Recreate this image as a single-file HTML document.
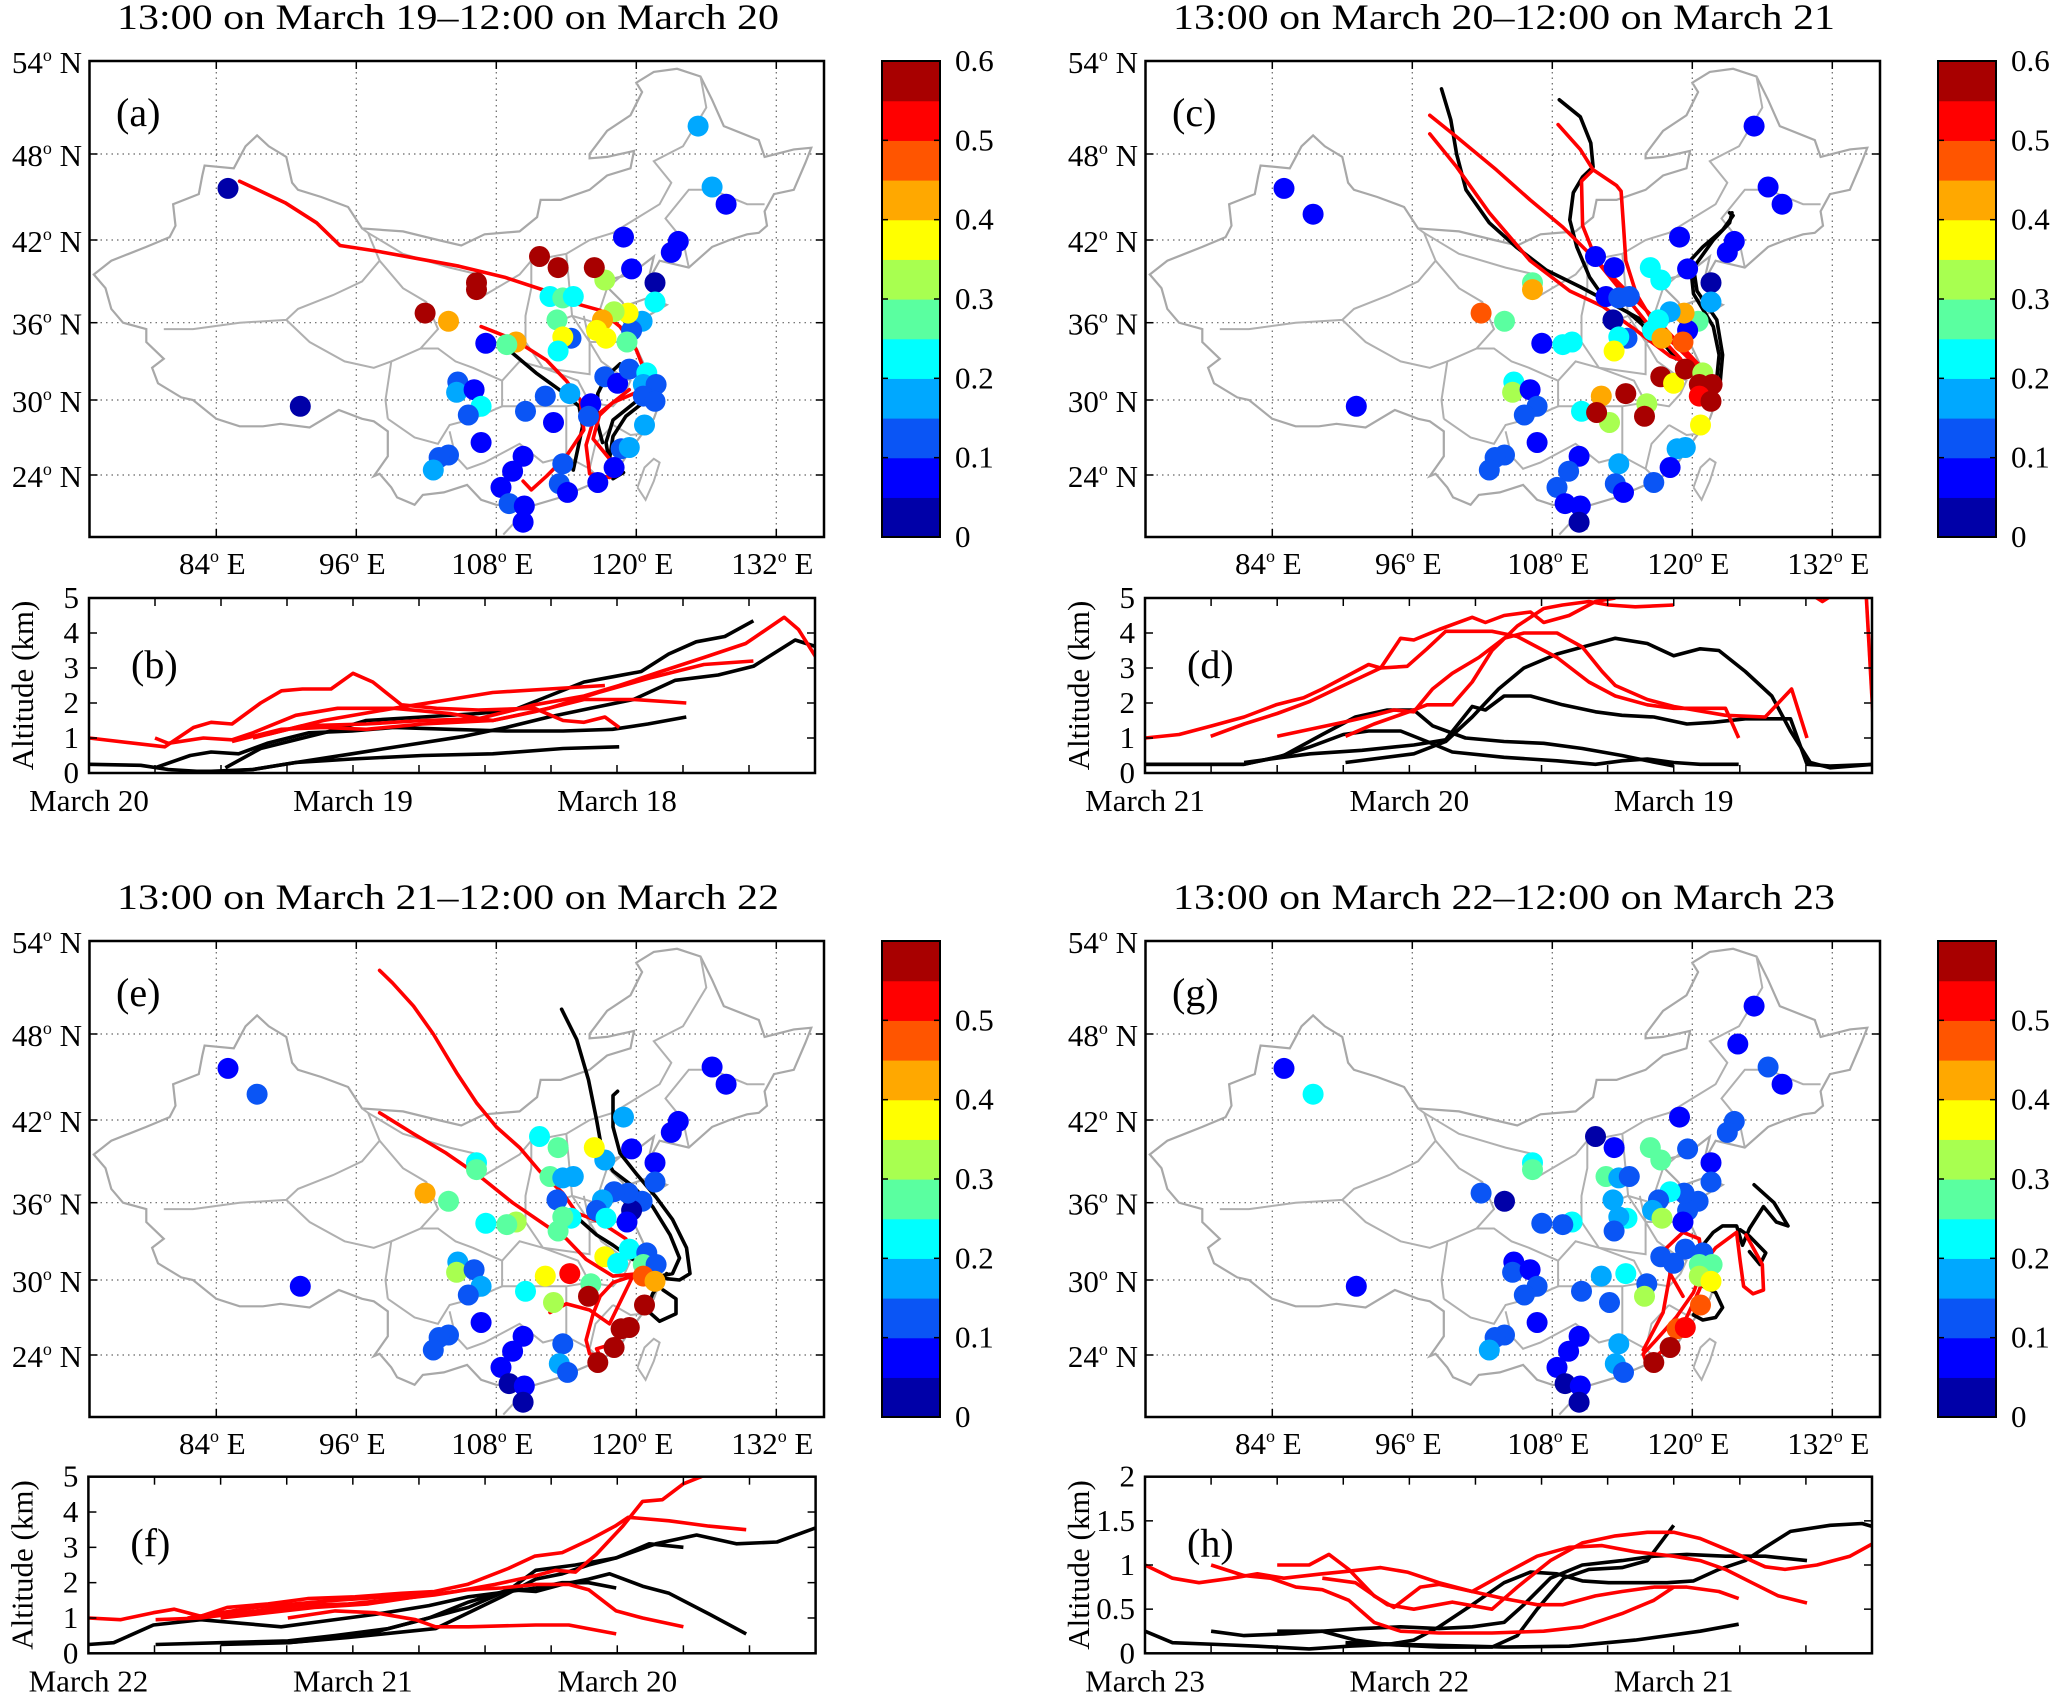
<!DOCTYPE html>
<html><head><meta charset="utf-8">
<style>
html,body{margin:0;padding:0;background:#fff;overflow:hidden;}
svg{display:block;font-family:"Liberation Serif","Times New Roman",serif;}
</style></head>
<body>
<svg id="chart" width="2067" height="1695" viewBox="0 0 2067 1695" xmlns="http://www.w3.org/2000/svg"></svg>
<script>
// ---------------- DATA ----------------
const jetColors=['#0000a8','#0000ff','#0a55f5','#00a8ff','#00ffff','#5affa0','#a8ff50','#ffff00','#ffa800','#ff5500','#ff0000','#a80000'];
const latTicks=[54,48,42,36,30,24];
const lonTicks=[84,96,108,120,132];
const cbTicksTop=[0,0.1,0.2,0.3,0.4,0.5,0.6];
const cbTicksBottom=[0,0.1,0.2,0.3,0.4,0.5];

const stationLon=[125.3,126.5,127.7,118.9,123.6,123.0,119.6,121.6,121.6,120.5,119.6,119.2,119.3,118.1,117.1,116.6,117.4,117.3,116.4,113.3,111.7,106.3,106.3,101.9,103.9,112.6,113.7,114.6,113.2,114.4,113.7,113.3,107.1,109.7,108.9,104.7,104.6,106.1,106.7,105.6,106.7,103.9,103.1,102.6,110.5,112.2,112.9,114.3,116.1,115.9,117.3,118.4,119.4,120.9,120.6,121.7,120.6,121.6,120.7,118.7,119.4,118.1,116.7,113.7,113.4,114.1,110.3,109.4,108.4,109.1,110.4,110.3,85.0,87.5,91.2,111.8,123.9];
const stationLat=[49.8,45.7,44.5,42.2,41.9,41.1,39.9,38.9,37.5,36.1,35.4,34.5,36.7,36.8,36.2,35.4,34.8,39.1,40.0,40.0,40.8,38.9,38.4,36.7,36.1,37.9,37.8,37.9,36.2,34.8,34.9,33.8,34.4,34.5,34.3,31.4,30.6,30.8,29.5,28.8,26.6,25.6,25.4,24.4,29.1,30.3,28.2,30.5,29.7,28.7,31.8,31.3,32.4,32.1,31.2,31.2,30.3,29.9,28.0,26.1,26.2,24.6,23.4,24.9,23.3,22.6,25.5,24.3,23.0,21.7,21.5,20.2,45.6,43.8,29.5,29.0,47.3];
const valuesA=[.18,.17,.08,.08,.05,.08,.08,.02,.2,.17,.12,.25,.38,.3,.43,.38,.38,.33,.58,.58,.58,.58,.58,.58,.43,.23,.28,.23,.28,.12,.38,.22,.08,.43,.28,.12,.18,.08,.22,.12,.08,.12,.12,.18,.12,.12,.08,.18,.08,.12,.12,.08,.12,.22,.18,.12,.12,.12,.18,.12,.18,.08,.08,.12,.12,.08,.08,.08,.08,.12,.08,.08,.02,null,.02,null,null];
const valuesC=[.08,.08,.08,.08,.08,.08,.08,.02,.18,.28,.08,.48,.43,.18,.22,.22,.43,.22,.22,.08,.08,.28,.43,.48,.28,.08,.12,.12,.02,.12,.22,.38,.08,.22,.22,.22,.33,.08,.12,.12,.08,.12,.12,.12,.22,.43,.33,.58,.33,.58,.58,.38,.58,.33,.58,.58,.52,.58,.38,.18,.18,.08,.12,.18,.12,.08,.08,.12,.12,.08,.08,.02,.08,.08,.08,.58,null];
const valuesE=[null,.08,.08,.18,.08,.08,.08,.08,.12,.12,.02,.08,.12,.12,.18,.12,.22,.18,.38,.28,.22,.22,.28,.43,.28,.28,.18,.18,.12,.22,.28,.28,.22,.33,.28,.18,.33,.12,.18,.12,.08,.12,.12,.12,.22,.38,.33,.53,.28,.58,.38,.22,.22,.12,.28,.12,.48,.43,.58,.58,.58,.58,.58,.12,.18,.12,.08,.08,.08,.02,.08,.02,.08,.12,.08,null,null];
const valuesG=[.08,.12,.08,.08,.12,.12,.12,.08,.12,.12,.12,.08,.12,.22,.12,.18,.33,.28,.28,.08,.02,.22,.28,.12,.02,.28,.18,.12,.18,.22,.18,.12,.12,.22,.12,.08,.12,.08,.12,.12,.08,.12,.12,.18,.12,.18,.12,.22,.12,.33,.12,.12,.12,.12,.28,.28,.33,.38,.48,.48,.52,.58,.58,.18,.18,.12,.08,.08,.08,.02,.08,.02,.08,.2,.08,null,.08];

const chinaLon=[73.5,75,76.5,78,80,80.5,80.3,82.5,82.8,83,85.5,86.5,87.5,88.5,90,90.5,91,93,95.3,96.5,100,103,105,107,110,111.5,111.8,113.5,116,117.5,119.5,119.8,117.5,116,116,117.5,119.5,120.5,120,121.5,123.5,125.5,126.5,127.5,130.5,131,133.5,135,134.5,133.5,131.8,131,131.2,130.5,129.5,128,126.5,124.5,122,121,121.5,119.5,118,117.6,118.8,119,121,122.6,121,119.5,120.8,121.9,121.7,122,121.5,120.5,119.5,118.5,117,115,113.5,111,109.7,108,106.7,105.5,103.5,101.7,101,99.5,99,98,97.5,98.7,98.7,97.5,96.5,94.5,92,89.5,88,86,84,82,81,79,78.5,79.5,78,78,76,75,74.5,73.5];
const chinaLat=[39.5,40.5,41,41.5,42.2,43,44.5,45.2,46.5,47.2,47,48.5,49.2,48.5,47.8,46,45.5,45,44.3,42.8,42.6,42,41.6,42.4,42.6,43.6,44.8,44.8,45.5,46.5,47,48.2,47.8,47.7,48,49.5,50.5,52,52.6,53.3,53.5,53,51.5,49.8,48.9,47.8,48.3,48.4,47.4,45.5,45.2,44,43,42.5,42.4,42,41.5,40,40.5,39,40.8,39.5,39.2,38.5,37.5,37.2,37.8,37.3,36.5,35,32.5,31.7,30.8,29.8,28.5,27.3,26,24.6,23.6,22.8,22.2,21.5,21.5,21.6,22,23.2,22.6,22.4,21.6,22.2,23,24.1,23.9,25.5,27.5,28.3,28.5,29.2,27.8,28.1,27.9,27.9,28.5,30,30.2,31.3,32.5,33.2,34.5,35.5,36,37,38.5,39.5];
const borderLon=[
 [79.5,82,86,90,91,94,96.5,98,97,96.5],
 [90,92,95,97.5,99,98.5,98.7],
 [98,100,102,103,101.5,99],
 [97,100,104,106.5,107,110,111,114,116,118,120,122,123,121.5,124,126,125.5],
 [98.7,101,103,104,106,108.5,108.5,106,104.5,103,101.5],
 [104,104.5,105.5,107,109,110,112,114,116,117],
 [114,114,114],
 [108.5,110,112,115,116,114,111,109,108.5],
 [110.5,110.5,111,111],
 [110.5,112,116,116,114.5,113],
 [115.5,116,118.5,119.5],
 [116,117,118.5,119.5,119,118,116],
 [118,119.5,120.5],
 [116,116.5,118],
 [114,114.5,116.5,117.5,119.5],
 [124.5,124,122.5,124.5,126.5,129.5,131],
 [120.1,120.7,121.5,122,121.5,120.8,120.1],
 [108.6,109.5,110.7,111]];
const borderLat=[
 [35.5,35.5,36,36.2,37,38,39,40.5,42.5,42.8],
 [36.2,34.5,33,32.5,33,30,28.5],
 [40.5,38.5,37.5,35.5,34,33],
 [42.5,41,40,39.5,38,39.5,40.5,41,42,42.5,43.5,44.5,46,47.5,48.5,51,53],
 [28.5,27,26.5,28,28.5,29.5,31.5,32.5,33,34,34],
 [27.5,25.5,24.5,25,26,26.5,25,25.5,24.5,23.6],
 [29.5,27,25.5],
 [31.5,33,32.5,31.5,29.8,29.5,29.5,29.5,29.5],
 [34.5,36.5,38.5,40.5],
 [34.5,32.5,32,34.5,36.5,36],
 [36.5,34.5,34.5,35],
 [34.5,33,32,31.5,30.5,29.5,29.8],
 [28,27.2,27.3],
 [24.5,26.5,28],
 [41,36.5,36,38.5,40],
 [40,42,43.5,45.5,45.5,44.5,44.5],
 [23,24.6,25.3,25,23.5,22,23],
 [19.2,20.1,20.1,19.6]];

// map trajectories (lon/lat)
const trajARedLon=[[86.0,89.9,92.6,94.6,97.7,104.8,108.7,112.3,115.2,116.9,118.6,120.0,120.6],[106.7,109.5,112.3,114.0,115.2,115.5,114.0,112.3,111.0,110.3],[120.3,118.0,116.3,115.7,116.0,117.7,118.6],[119.4,116.9,116.3,117.7,118.6]];
const trajARedLat=[[46.1,44.6,43.2,41.6,41.2,40.1,39.3,38.3,37.3,36.9,35.7,33.9,32.5],[35.7,34.7,33.1,31.5,30.0,27.6,25.5,23.9,22.8,23.5],[30.7,29.8,28.3,26.4,24.1,23.8,24.4],[30.8,29.0,26.9,25.3,24.4]];
const trajABlackLon=[[109.3,111.4,113.4,115.1,115.4,114.6],[120.6,119.1,118,117.7,118,118.9],[118.6,117.4,116.7,116.6,117.1],[120,118,117.4,117.6]];
const trajABlackLat=[[33.7,32.1,30.8,29.5,27.9,24.4],[29.8,28.7,27.1,25.3,23.7,24.2],[32.8,31.8,30.5,28.4,26.6],[29.9,28.4,26.6,25.5]];
const trajCRedLon=[[97.5,99.8,103.2,106.1,108.9,111.8,114.6,117.5,120.6],[97.5,99.8,102.6,106.1,109.5,112.3,115.2,118.1,120.1],[108.5,110.4,111.5,110.5,110.6,111.8,114.1,116.1,119],[111.5,113.5,113.9,114.1,114.3,115.2,116.9,120.3]];
const trajCRedLat=[[50.5,49.1,46.9,44.8,42.9,40.5,38.1,35.7,32.7],[49.3,47.1,43.9,40.5,38.3,37.2,35.4,33.4,32.7],[49.9,48.3,46.9,46.1,43,40.5,38.1,36,33.2],[46.9,45.8,45.4,43.0,40.5,38.1,35.7,32.7]];
const trajCBlackLon=[[98.5,99.3,99.8,100.6,102.6,104.9,107.5,110.4,113.5,116.1,118.6],[108.6,110.4,111.3,111.5,110.6,109.8,109.5,110.1,111.2,112.6,114.6,116.9,119.2],[122.1,122.3,121.8,120.1,119.8,120.9,122.6,123.5,123.2],[122.4,122.6,122.1,120.4,120.1,121.8,123.2,123.4]];
const trajCBlackLat=[[52.2,50.2,48.0,45.5,43.2,41.5,39.8,38.6,37.2,36,33.2],[51.5,50.4,48.7,47.1,46.4,45.3,43.4,41.5,39.3,37.6,36.7,34.9,32.9],[31.7,33.5,35.7,38.1,40.5,41.5,42.7,43.7,43.9],[31.5,33.5,36.2,38.3,40.0,42.0,43.2,43.9]];
const trajERedLon=[[98,99.1,100.9,102.6,104.6,106.3,108,110,111.7,113.7,114.9,116.9,119.1],[98,100.9,103.7,106.6,109.4,112.3,114,115.7,118,120.3],[112.6,114,116,117.7,119.7],[120.3,118,116.9,116.3,115.7,116,116.9,116.6,118]];
const trajERedLat=[[52.1,51.3,49.8,48.0,45.3,43.2,41.5,40,38.3,36.7,35.2,34.5,33.2],[42.5,41,39.6,37.9,36,34.2,33.2,31.6,30.3,30.5],[27.4,28.1,27.6,26.5,30.3],[30.5,29.8,28.7,27.3,25.2,24.1,23.9,24.5,24.9]];
const trajEBlackLon=[[113.6,114.9,115.9,116.6,117.1,118,119.7,121.4,122.9,123.7,123.1,122],[118.4,118,118,118.6,120,121.7,123.1,124.3,124.6,123.7,122.6],[115.1,116.6,118,119.7],[122.6,121.4,120.9,122,123.4,123.4,122.3]];
const trajEBlackLat=[[49.6,47.6,44.8,42,39.6,38.3,37.2,35.7,33.5,31.7,30.5,30.3],[44,43.7,41.5,39.6,38.1,36.4,34.7,32.5,30.5,30,30.1],[34.7,33.5,32.7,31.6],[30.5,28.9,27.6,26.7,27.3,28.5,29.2]];
const trajGRedLon=[[119.2,118.1,117.8,119.2,120.6,120.9,120.1,118.6,116.9,115.8,116.1,117.5,119.5,120.6,121.5],[120.3,122,123.8,124.1,124.4,125.2,126.1,126,124.6],[115.8,117.5,118.1,119.2]];
const trajGRedLat=[[28.7,30.5,32.5,33.7,33.2,31,29,27,25.2,24.1,23.2,24.4,27,29.2,31.5],[30.5,32.5,33.7,31.5,29.5,28.9,29.2,31.2,33.5],[24.4,27.4,30.5,31.8]];
const trajGBlackLon=[[125.3,127,128.2,127.2,126.1,124.9,124.3,123.8,122.6,121.8,120.9,120.6,120.9,122,122.6,122,120.9,120.1,120.6],[124.1,124.9,126.3,125.8,124.9]];
const trajGBlackLat=[[37.3,36,34.2,34.5,35.7,34,32.7,34.2,34.2,33.7,32.7,31,29.5,29,27.8,27,26.8,27.2,28],[33.9,33.4,32.1,31.2,32.2]];

// altitude panels: hours before arrival and altitude (km)
const bRedHours=[[0,6.9,9.5,11.1,13,15.6,17.5,19.4,22,24,25.8,28.4,31.6,35.4,40.5,43.1,45,46.9,48.2],[6,7.2,10.4,13,14.9,18.8,22.6,27.7,32.8,36.7,40.5,45,49.5,54.3],[13,17.5,21.3,25.2,30.3,36.7,41.8,46.3,50.8,55.9,60.4],[14.9,19.4,25.2,30.3,35.4,40.5,45,48.2,52,55.9,59.7,63.2,64.5,66.1],[16.2,21.3,27.7,32.8,36.7,41.8,46.9]];
const bRedKm=[[1.0,0.75,1.3,1.45,1.4,2.0,2.35,2.4,2.4,2.85,2.6,1.95,1.85,1.8,1.85,1.5,1.45,1.6,1.3],[1.0,0.85,1.0,0.95,1.15,1.65,1.85,1.85,1.7,1.5,1.75,2.1,2.1,2.0],[0.9,1.25,1.3,1.25,1.4,1.5,1.85,2.3,2.7,3.1,3.2],[1.0,1.35,1.4,1.5,1.55,1.95,2.2,2.5,2.9,3.3,3.7,4.45,4.1,3.3],[1.1,1.5,1.85,2.1,2.3,2.4,2.5]];
const bBlackHours=[[0,4.7,7.2,9.8,12.4,14.9,18.8,23.9,30.3,36.7,43.1,48.2],[6,9.2,11.1,13.6,16.2,20,23.9,27.7,32.8,37.9,43.1,47.6,50.8,54.3],[12.4,15.6,18.8,22,25.2,30.3,35.4,38.6,41.8,45,47.6,50.2,52.7,55.2,57.8,60.4],[11.1,14.9,18.8,23.9,29,34.1,37.9,41.8,45.6,49.5,53.3,57.2,60.4,64.2,66.2]];
const bBlackKm=[[0.25,0.22,0.1,0.05,0.05,0.1,0.3,0.4,0.5,0.55,0.7,0.75],[0.15,0.5,0.6,0.55,0.85,1.15,1.2,1.3,1.25,1.2,1.2,1.25,1.4,1.6],[0.15,0.7,0.95,1.2,1.5,1.6,1.7,1.8,2.2,2.6,2.75,2.9,3.4,3.75,3.9,4.35],[0.05,0.1,0.3,0.55,0.8,1.05,1.3,1.6,1.85,2.1,2.65,2.8,3.05,3.8,3.6]];
const dRedHours=[[0,3.1,6.1,9,11.9,14.4,16.1,18.5,20.3,21.4,23.2,24.4,26.7,29.7,30.9,32.6,35,36.2,38.5,40.9,42.7],[5.96,9,12,15,18,19.7,21.4,23.8,25.6,27.3,31.5,33.8,37.4,40.3,42.7,45.6,48,50.4,52.7,53.9],[12,15,18,20.8,22.6,24.4,26.1,27.9,30.3,32.6,34.4,37.4,39.7,41.5,42.7,45.6,48,52.7,56.3,58.7,60.1],[18.2,20.8,24.4,25.6,27.9,29.7,31.5,33.8,36.2,37.9,40.3,42.1,44.5,48],[60.5,61.5,62.5],[65.4,66.2]];
const dRedKm=[[1.0,1.1,1.35,1.6,1.95,2.15,2.4,2.8,3.1,3.0,3.85,3.8,4.1,4.45,4.3,4.5,4.6,4.3,4.5,4.9,5.0],[1.05,1.4,1.7,2.05,2.5,2.75,3.0,3.05,3.55,4.05,4.05,3.9,3.3,2.6,2.2,1.95,1.85,1.85,1.85,1.0],[1.05,1.25,1.45,1.65,1.8,1.75,2.4,2.85,3.3,3.85,4.0,4.0,3.6,2.9,2.5,2.1,1.9,1.65,1.6,2.4,1.0],[1.05,1.4,1.8,1.95,1.95,2.6,3.5,4.2,4.7,4.8,4.9,4.8,4.75,4.8],[5.1,4.9,5.1],[5.5,1.0]];
const dBlackHours=[[0,9,12,15,18,20.3,23.2,25.6,27.9,32.6,37.4,40.9,43.3,45.6,48,50.4,53.9],[0,9,12.6,16.1,19.1,22,24.4,26.1,29.1,32.6,36.2,39.7,43.3,45.6,48],[9,15,19.7,24.4,27.3,29.7,30.9,32.6,35,37.9,40.9,43.3,46.2,49.2,51.6,54.5,58.6,60.1,62.2,66.2],[18.2,24.4,27.3,29.7,32.1,34.4,37.4,40.3,42.7,45.6,48,50.4,52.1,54.5,56.9,58.6,60.4,62.2,66.2]];
const dBlackKm=[[0.25,0.25,0.45,0.75,1.1,1.2,1.2,0.9,0.6,0.45,0.35,0.25,0.35,0.4,0.3,0.25,0.25],[0.25,0.25,0.5,1.1,1.6,1.8,1.8,1.35,1.0,0.9,0.85,0.7,0.5,0.35,0.2],[0.3,0.55,0.65,0.8,0.95,1.9,1.8,2.2,2.2,1.95,1.75,1.65,1.6,1.4,1.45,1.55,1.55,0.25,0.2,0.25],[0.3,0.55,0.9,1.6,2.4,3.0,3.4,3.65,3.85,3.7,3.35,3.55,3.5,2.9,2.2,1.2,0.3,0.15,0.25]];
const fRedHours=[[0,2.9,5.9,7.8,10.2,12.6,16.3,19.9,24.2,28.4,31.4,34.4,38.1,40.5,43,45.4,47.8,49,52.7,56.3,59.7],[6.1,10.2,13.9,19.3,23.6,28.4,31.4,34.4,37.5,40.6,43.6,45.4,47.9,50.3,54],[12,16.3,20.5,25.4,29.7,33.3,36.9,40.6,42.4,44.2,46.1,48.5,50.3,52.1,54,56.4],[18.1,22.4,26,29.7,31.5,34.5,40.6,43.6,47.9],[9,15.1,22.4,27.2,30.9]];
const fRedKm=[[1.0,0.95,1.15,1.25,1.05,1.3,1.4,1.55,1.6,1.7,1.75,1.95,2.4,2.75,2.85,3.2,3.6,3.85,3.75,3.6,3.5],[0.95,1.0,1.15,1.35,1.4,1.55,1.65,1.8,1.85,1.95,1.95,1.8,1.2,1.0,0.75],[1.0,1.15,1.3,1.4,1.6,1.75,1.95,2.2,2.35,2.3,2.8,3.6,4.3,4.35,4.8,5.1],[1.0,1.2,1.15,0.95,0.75,0.75,0.8,0.8,0.55],[1.0,1.3,1.5,1.6,1.7]];
const fBlackHours=[[0,2.3,5.9,10.2,13.9,17.5,21.1,26,30.9,34.5,38.2,40.6,43,45.4,47.9],[6.1,12,18.1,22.4,27.2,30.9,34.5,38.2,40.6,43,45.4,47.3,50.3,52.7,56.4,59.7],[12,18.1,23.6,28.4,31.5,34.5,37.5,40.6,43,45.4,47.9,50.9,54],[18.1,24.8,29.7,34.5,38.2,40.6,44.2,47.9,51.5,55.2,58.8,62.5,66]];
const fBlackKm=[[0.25,0.3,0.8,0.95,0.85,0.75,0.9,1.1,1.35,1.6,1.75,1.85,2.0,2.0,1.85],[0.25,0.3,0.35,0.5,0.7,1.0,1.45,1.8,1.75,1.95,2.1,2.25,1.9,1.7,1.1,0.55],[0.25,0.3,0.45,0.6,0.7,1.15,1.6,2.1,2.25,2.5,2.7,3.1,3.0],[0.3,0.5,0.9,1.3,1.8,2.35,2.5,2.7,3.1,3.35,3.1,3.15,3.55]];
const hRedHours=[[0,2.5,4.9,7.9,10.2,12.6,16.1,18.5,21.4,23.8,26.7,29.7,32.6,35.6,37.9,40.9,43.3,46.2,49.2,52.1,53.9],[6,9,11.4,13.7,16.1,18.5,20.8,23.2,26.7,31.5,36.2,39.7,43.3,46.2,48],[12,14.9,16.7,18.5,20.8,22.6,25,26.7,29.7,32.6,35.6,38.5,41.5,44.5,48,50.4,52.7,55.1,57.5,60.1],[16.1,19.1,22,24.4,27.9,31.5,33.8,36.8,39.7,42.7,45.6,48,50.4,53.3,56.3,58.1,61,64,66.2]];
const hRedKm=[[1.0,0.85,0.8,0.85,0.9,0.85,0.9,0.93,0.97,0.92,0.8,0.7,0.62,0.55,0.55,0.65,0.7,0.75,0.75,0.7,0.62],[1.0,0.88,0.85,0.75,0.72,0.6,0.35,0.25,0.23,0.23,0.25,0.3,0.45,0.6,0.75],[1.0,1.0,1.12,0.95,0.65,0.52,0.75,0.78,0.7,0.9,1.1,1.2,1.22,1.15,1.1,1.05,0.95,0.8,0.65,0.57],[0.85,0.8,0.55,0.5,0.58,0.5,0.75,1.05,1.25,1.33,1.37,1.37,1.3,1.15,0.98,0.95,1.0,1.1,1.25]];
const hBlackHours=[[0,2.5,6.7,10.2,14.9,18.5,22,24.4,26.7,29.7,32.6,35,37.4,39.7,42.1,44.5,47.4,49.8,52.1,54.5,56.3,58.6,62.2,65.1,66.2],[6,9,12.6,16.1,19.1,22,26.7,31.5,33.8,35.6,38,40.3,43.3,45.6,48],[12,16.1,19.7,23.2,26.7,29.7,32.6,34.4,36.8,39.7,43.3,46.2,49.2,52.7,56.3,60.1],[18.2,23.8,32.6,38.5,44.5,50.4,53.9]];
const hBlackKm=[[0.25,0.12,0.1,0.08,0.05,0.08,0.1,0.15,0.3,0.55,0.8,0.92,0.9,0.82,0.8,0.8,0.8,0.82,0.95,1.05,1.2,1.38,1.45,1.47,1.43],[0.25,0.2,0.22,0.25,0.15,0.1,0.07,0.07,0.2,0.5,0.85,0.95,0.97,1.05,1.45],[0.25,0.25,0.28,0.3,0.28,0.3,0.35,0.55,0.85,1.0,1.05,1.1,1.12,1.1,1.1,1.05],[0.12,0.1,0.07,0.08,0.15,0.25,0.33]];

// ---------------- DRAWING ----------------
const NS='http://www.w3.org/2000/svg';
const svg=document.getElementById('chart');
function mk(tag,attrs,parent){const e=document.createElementNS(NS,tag);for(const k in attrs)e.setAttribute(k,attrs[k]);(parent||svg).appendChild(e);return e;}
const latKnots=[54,48,42,36,30,24,18];
const yKnots=[61,154,240,322.7,400,475,549.5];
function latToY(lat){
  if(lat>=54)return 61-(lat-54)*93/6;
  for(let i=0;i<latKnots.length-1;i++){if(lat<=latKnots[i]&&lat>=latKnots[i+1]){const t=(latKnots[i]-lat)/6;return yKnots[i]+t*(yKnots[i+1]-yKnots[i]);}}
  return 549.5+(18-lat)*12.5;
}
function lonToX(lon){return 216.3+(lon-84)*140/12;}
function cidx(v){return Math.max(0,Math.min(11,Math.floor(v/0.05+1e-9)));}
const MAP={L:89.5,R:824,T:61,B:537};

function addText(g,x,y,str,size,anchor,name){
  const t=mk('text',{x:x,y:y,'font-size':size,'text-anchor':anchor||'start',fill:'#000'},g);
  t.textContent=str;
  
  
  return t;
}
function degLabel(g,x,y,num,dir,anchor,name){
  const t=mk('text',{x:x,y:y,'font-size':31,'text-anchor':anchor,fill:'#000'},g);
  
  
  const a=mk('tspan',{},t);a.textContent=num;
  const b=mk('tspan',{dy:-12,'font-size':18},t);b.textContent='o';
  const c=mk('tspan',{dy:12},t);c.textContent='\u00a0'+dir;
}
function polyPts(lons,lats,dx,dy){return lons.map((lo,i)=>(lonToX(lo)+dx).toFixed(1)+','+(latToY(lats[i])+dy).toFixed(1)).join(' ');}

function drawMap(id,dx,dy,title,label,vals,redLon,redLat,blackLon,blackLat,cbTicks){
  const g=mk('g',{});
  
  
  const tt=addText(g,dx+448,dy+29,title,36,'middle','panel-title-'+id);
  tt.setAttribute('textLength',662);tt.setAttribute('lengthAdjust','spacingAndGlyphs');
  const cp=mk('clipPath',{id:'clip'+id},g);
  mk('rect',{x:MAP.L+dx,y:MAP.T+dy,width:MAP.R-MAP.L,height:MAP.B-MAP.T},cp);
  const inner=mk('g',{'clip-path':'url(#clip'+id+')'},g);
  lonTicks.forEach(lo=>{const x=lonToX(lo)+dx;const l=mk('line',{x1:x,x2:x,y1:MAP.T+dy,y2:MAP.B+dy,stroke:'#666','stroke-width':1.2,'stroke-dasharray':'1.5,4'},inner);});
  latTicks.slice(1).forEach(la=>{const y=latToY(la)+dy;const l=mk('line',{x1:MAP.L+dx,x2:MAP.R+dx,y1:y,y2:y,stroke:'#666','stroke-width':1.2,'stroke-dasharray':'1.5,4'},inner);});
  const ol=mk('polygon',{points:polyPts(chinaLon,chinaLat,dx,dy),fill:'none',stroke:'#a8a8a8','stroke-width':2.2},inner);
  
  
  borderLon.forEach((bl,i)=>{const p=mk('polyline',{points:polyPts(bl,borderLat[i],dx,dy),fill:'none',stroke:'#b0b0b0','stroke-width':2},inner);});
  blackLon.forEach((tl,i)=>{const p=mk('polyline',{points:polyPts(tl,blackLat[i],dx,dy),fill:'none',stroke:'#000','stroke-width':3.6,'stroke-linejoin':'round','stroke-linecap':'round'},inner);});
  redLon.forEach((tl,i)=>{const p=mk('polyline',{points:polyPts(tl,redLat[i],dx,dy),fill:'none',stroke:'#ff0000','stroke-width':3.6,'stroke-linejoin':'round','stroke-linecap':'round'},inner);});
  vals.forEach((v,i)=>{if(v===null)return;const c=mk('circle',{cx:(lonToX(stationLon[i])+dx).toFixed(1),cy:(latToY(stationLat[i])+dy).toFixed(1),r:10.5,fill:jetColors[cidx(v)]},inner);});
  const fr=mk('rect',{x:MAP.L+dx,y:MAP.T+dy,width:MAP.R-MAP.L,height:MAP.B-MAP.T,fill:'none',stroke:'#000','stroke-width':2.5},g);
  
  
  lonTicks.forEach(lo=>{const x=lonToX(lo)+dx;mk('line',{x1:x,x2:x,y1:MAP.T+dy,y2:MAP.T+dy+8,stroke:'#000','stroke-width':1.5},g);mk('line',{x1:x,x2:x,y1:MAP.B+dy,y2:MAP.B+dy-8,stroke:'#000','stroke-width':1.5},g);
    degLabel(g,x-4,dy+574,String(lo),'E','middle','lon-tick-label');});
  latTicks.forEach(la=>{const y=latToY(la)+dy;mk('line',{x1:MAP.L+dx,x2:MAP.L+dx+8,y1:y,y2:y,stroke:'#000','stroke-width':1.5},g);mk('line',{x1:MAP.R+dx,x2:MAP.R+dx-8,y1:y,y2:y,stroke:'#000','stroke-width':1.5},g);
    degLabel(g,dx+82,y+12,String(la),'N','end','lat-tick-label');});
  addText(g,dx+116,dy+126,label,40,'start','panel-label-'+id);
  const cbL=dx+882,cbR=dx+940,cbT=dy+61,cbB=dy+537;
  const bh=(cbB-cbT)/12;
  jetColors.forEach((c,i)=>{const r=mk('rect',{x:cbL,y:(cbB-(i+1)*bh).toFixed(2),width:cbR-cbL,height:(bh+0.6).toFixed(2),fill:c},g);});
  const cf=mk('rect',{x:cbL,y:cbT,width:cbR-cbL,height:cbB-cbT,fill:'none',stroke:'#000','stroke-width':2},g);
  
  
  cbTicks.forEach(v=>{const y=cbB-v/0.6*(cbB-cbT);mk('line',{x1:cbL,x2:cbL+6,y1:y,y2:y,stroke:'#000','stroke-width':1.5},g);mk('line',{x1:cbR,x2:cbR-6,y1:y,y2:y,stroke:'#000','stroke-width':1.5},g);
    addText(g,cbR+15,y+10,String(v),31,'start','colorbar-tick-label');});
}

function drawAlt(id,L,R,T,B,yMax,yTicks,dayLabels,label,redH,redK,blackH,blackK){
  const g=mk('g',{});
  
  
  const xs=h=>L+h/66*(R-L);
  const ys=k=>B-k/yMax*(B-T);
  const cp=mk('clipPath',{id:'clip'+id},g);
  mk('rect',{x:L,y:T,width:R-L,height:B-T},cp);
  const inner=mk('g',{'clip-path':'url(#clip'+id+')'},g);
  blackH.forEach((hs,i)=>{const p=mk('polyline',{points:hs.map((h,j)=>xs(h).toFixed(1)+','+ys(blackK[i][j]).toFixed(1)).join(' '),fill:'none',stroke:'#000','stroke-width':3.6,'stroke-linejoin':'round'},inner);});
  redH.forEach((hs,i)=>{const p=mk('polyline',{points:hs.map((h,j)=>xs(h).toFixed(1)+','+ys(redK[i][j]).toFixed(1)).join(' '),fill:'none',stroke:'#ff0000','stroke-width':3.6,'stroke-linejoin':'round'},inner);});
  const fr=mk('rect',{x:L,y:T,width:R-L,height:B-T,fill:'none',stroke:'#000','stroke-width':2.5},g);
  
  
  for(let h=6;h<66;h+=6){const x=xs(h);mk('line',{x1:x,x2:x,y1:T,y2:T+8,stroke:'#000','stroke-width':1.5},g);mk('line',{x1:x,x2:x,y1:B,y2:B-8,stroke:'#000','stroke-width':1.5},g);}
  yTicks.forEach(k=>{const y=ys(k);mk('line',{x1:L,x2:L+8,y1:y,y2:y,stroke:'#000','stroke-width':1.5},g);mk('line',{x1:R,x2:R-8,y1:y,y2:y,stroke:'#000','stroke-width':1.5},g);
    addText(g,L-10,y+10,String(k),31,'end','altitude-tick-label');});
  dayLabels.forEach((d,i)=>addText(g,xs(i*24),B+38,d,31,'middle','date-tick-label'));
  const yl=mk('text',{x:0,y:0,'font-size':31,'text-anchor':'middle',transform:'translate('+(L-56)+','+((T+B)/2)+') rotate(-90)',fill:'#000'},g);
  yl.textContent='Altitude (km)';
  
  
  addText(g,L+42,T+80,label,40,'start','panel-label-'+id);
}

drawMap('a',0,0,'13:00 on March 19\u201312:00 on March 20','(a)',valuesA,trajARedLon,trajARedLat,trajABlackLon,trajABlackLat,cbTicksTop);
drawMap('c',1056,0,'13:00 on March 20\u201312:00 on March 21','(c)',valuesC,trajCRedLon,trajCRedLat,trajCBlackLon,trajCBlackLat,cbTicksTop);
drawMap('e',0,880,'13:00 on March 21\u201312:00 on March 22','(e)',valuesE,trajERedLon,trajERedLat,trajEBlackLon,trajEBlackLat,cbTicksBottom);
drawMap('g',1056,880,'13:00 on March 22\u201312:00 on March 23','(g)',valuesG,trajGRedLon,trajGRedLat,trajGBlackLon,trajGBlackLat,cbTicksBottom);
drawAlt('b',89,815,598,773,5,[0,1,2,3,4,5],['March 20','March 19','March 18'],'(b)',bRedHours,bRedKm,bBlackHours,bBlackKm);
drawAlt('d',1145,1872,598,773,5,[0,1,2,3,4,5],['March 21','March 20','March 19'],'(d)',dRedHours,dRedKm,dBlackHours,dBlackKm);
drawAlt('f',88.4,815.6,1476.7,1653.3,5,[0,1,2,3,4,5],['March 22','March 21','March 20'],'(f)',fRedHours,fRedKm,fBlackHours,fBlackKm);
drawAlt('h',1145,1872,1476.7,1653.3,2,[0,0.5,1,1.5,2],['March 23','March 22','March 21'],'(h)',hRedHours,hRedKm,hBlackHours,hBlackKm);
</script>
</body></html>
